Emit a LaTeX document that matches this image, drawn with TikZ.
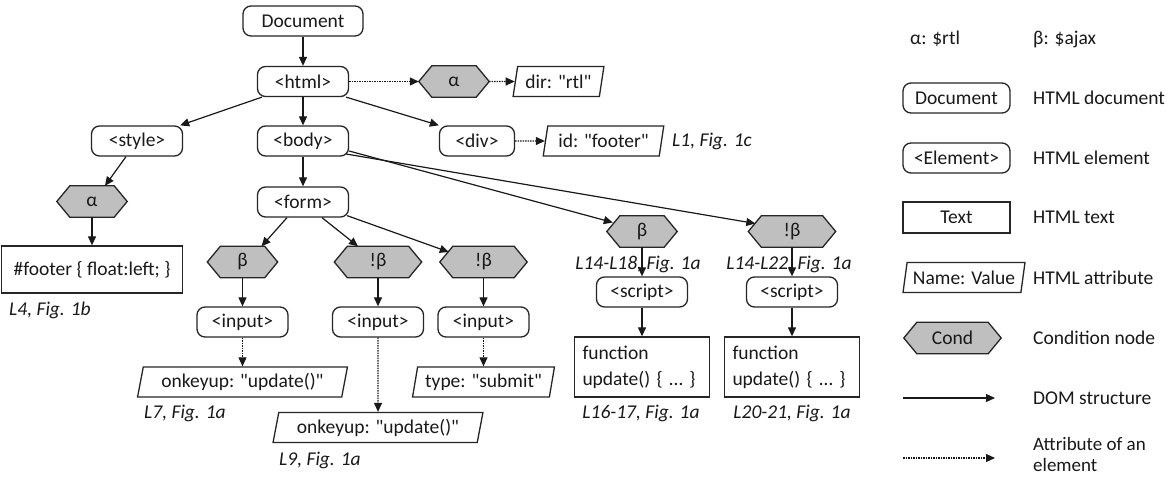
\documentclass[tikz,border=0pt]{standalone}
\usepackage{fontspec}
\setmainfont{Carlito}[Ligatures=TeXOff]
\usetikzlibrary{shapes.geometric,arrows.meta,backgrounds}
\newcommand\condnode[4]{%
 \node[condin, minimum width={#3-26}] (#1) at (#2) {#4};
 \begin{pgfonlayer}{background}
 \path[condline] ([xshift=-13pt]#1.west) -- (#1.north west) -- (#1.north east) -- ([xshift=13pt]#1.east) -- (#1.south east) -- (#1.south west) -- cycle;
 \end{pgfonlayer}}
\begin{document}
\begin{tikzpicture}[x=1pt,y=-1pt,
  every node/.style={font=\fontsize{19.5}{24}\selectfont, inner sep=0pt, text=black!90},
  elem/.style={draw=black!85, line width=1.3pt, rounded corners=8pt, minimum width=91pt, minimum height=30pt},
  rectbox/.style={draw=black!85, line width=1.3pt},
  fbox/.style={draw=black!85, line width=1.3pt, minimum height=60pt, text width=119pt, inner xsep=8pt, align=left, font=\fontsize{19.5}{26}\selectfont},
  attr/.style={trapezium, trapezium left angle=75, trapezium right angle=105, trapezium stretches=true, draw=black!85, line width=1.3pt, minimum height=30pt},
  condin/.style={minimum height=31pt},
  condline/.style={draw=black!85, fill=black!25, line width=1.3pt},
  lbl/.style={font=\fontsize{19.5}{24}\selectfont\itshape},
  dom/.style={-{Triangle[length=9pt,width=8pt]}, line width=1.2pt, draw=black!90},
  att/.style={-{Triangle[length=9pt,width=8pt]}, line width=1.1pt, draw=black!90, dash pattern=on 1.5pt off 1pt}
]
\useasboundingbox (0,0) rectangle (1168,477);
\begin{pgfonlayer}{background}
\fill[white] (0,0) rectangle (1168,477);
\end{pgfonlayer}

% main tree
\node[elem, minimum width=120pt] (doc) at (303,21) {Document};
\node[elem] (html) at (303,81.5) {<html>};
\node[elem] (style) at (137,141) {<style>};
\node[elem] (body) at (303,141) {<body>};
\node[elem, minimum width=75pt] (div) at (477,141) {<div>};
\node[elem] (form) at (303,202) {<form>};
\condnode{a1}{454,81.5}{70}{α}
\node[attr, minimum width=91pt] (dir) at (558.5,81.5) {dir: "rtl"};
\node[attr, minimum width=121pt] (id) at (603.5,141) {id: "footer"};
\node[lbl, anchor=west] (l1) at (672,141) {L1, Fig. 1c};
\condnode{a2}{92,201.5}{70}{α}
\node[rectbox, minimum width=181pt, minimum height=47pt] (foot) at (92,269.5) {\#footer \{ float:left; \}};
\node[lbl, anchor=west] (l4) at (9,310) {L4, Fig. 1b};
\condnode{b1}{242.5,262}{70}{β}
\condnode{nb1}{378,262}{87}{!β}
\condnode{nb2}{483.5,262}{87}{!β}
\node[elem] (in1) at (242.5,322) {<input>};
\node[elem] (in2) at (378,322) {<input>};
\node[elem] (in3) at (483.5,322) {<input>};
\node[attr, minimum width=210pt] (ok1) at (242.5,382) {onkeyup: "update()"};
\node[lbl, anchor=west] (l7) at (144,413) {L7, Fig. 1a};
\node[attr, minimum width=210pt] (ok2) at (378,427.5) {onkeyup: "update()"};
\node[lbl, anchor=west] (l9) at (279,460) {L9, Fig. 1a};
\node[attr, minimum width=142pt] (type) at (483.5,382) {type: "submit"};
\condnode{b2}{642,231.5}{70}{β}
\condnode{nb3}{792,231.5}{87}{!β}
\node[lbl] (l1418) at (638,264) {L14-L18, Fig. 1a};
\node[lbl] (l1422) at (789,264) {L14-L22, Fig. 1a};
\node[elem] (sc1) at (642,292) {<script>};
\node[elem] (sc2) at (792,292) {<script>};
\node[fbox] (fn1) at (642,367) {function\\update() \{ … \}};
\node[fbox] (fn2) at (792,367) {function\\update() \{ … \}};
\node[lbl] (l1617) at (641,413) {L16-17, Fig. 1a};
\node[lbl] (l2021) at (792,413) {L20-21, Fig. 1a};

% edges
\draw[dom] (doc) -- (html);
\draw[dom] ([xshift=5pt]html.south west) -- ([xshift=-3pt]style.north east);
\draw[dom] (html) -- (body);
\draw[dom] ([xshift=-3pt]html.south east) -- (div.north west);
\draw[att] (html) -- ([xshift=-13pt]a1.west);
\draw[att] ([xshift=13pt]a1.east) -- (dir.west);
\draw[att] (div) -- (id.west);
\draw[dom] ([xshift=-11pt]style.south) -- ([xshift=13pt]a2.north);
\draw[dom] (a2) -- (foot);
\draw[dom] (body) -- (form);
\draw[dom] ([yshift=-10pt]body.east) -- ([xshift=-7pt,yshift=9pt]b2.west);
\draw[dom] ([xshift=-3pt,yshift=-13pt]body.east) -- ([xshift=-6pt,yshift=8pt]nb3.west);
\draw[dom] ([xshift=-16pt]form.south) -- ([xshift=19pt]b1.north);
\draw[dom] ([xshift=19pt]form.south) -- ([xshift=-20pt]nb1.north);
\draw[dom] ([xshift=-2pt,yshift=2pt]form.south east) -- ([xshift=-4pt,yshift=10pt]nb2.west);
\draw[dom] (b1) -- (in1);
\draw[dom] (nb1) -- (in2);
\draw[dom] (nb2) -- (in3);
\draw[att] (in1) -- (ok1);
\draw[att] (in2) -- (ok2);
\draw[att] (in3) -- (type);
\draw[dom] (b2) -- (sc1);
\draw[dom] (nb3) -- (sc2);
\draw[dom] (sc1) -- (fn1);
\draw[dom] (sc2) -- (fn2);

% legend
\node[anchor=west] (ka) at (910,39) {α: \$rtl};
\node[anchor=west] (kb) at (1033,39) {β: \$ajax};
\node[elem, minimum width=107pt] (kdoc) at (956.5,98) {Document};
\node[anchor=west] (tdoc) at (1033,98) {HTML document};
\node[elem, minimum width=107pt] (kel) at (956.5,158) {<Element>};
\node[anchor=west] (tel) at (1033,158) {HTML element};
\node[rectbox, minimum width=107pt, minimum height=31pt] (ktx) at (956.5,217.5) {Text};
\node[anchor=west] (ttx) at (1033,217.5) {HTML text};
\node[attr, minimum width=122pt] (kat) at (964,277.5) {Name: Value};
\node[anchor=west] (tat) at (1033,277.5) {HTML attribute};
\condnode{kc}{952.5,338}{97}{Cond}
\node[anchor=west] (tc) at (1033,338) {Condition node};
\coordinate (d1) at (903,398);
\coordinate (d2) at (995,398);
\draw[dom] (d1) -- (d2);
\node[anchor=west] (td) at (1033,398) {DOM structure};
\coordinate (e1) at (903,458);
\coordinate (e2) at (995,458);
\draw[att] (e1) -- (e2);
\node[anchor=south west, align=left, font=\fontsize{19}{21}\selectfont] (te) at (1033,472) {Attribute of an\\element};
\end{tikzpicture}
\end{document}
